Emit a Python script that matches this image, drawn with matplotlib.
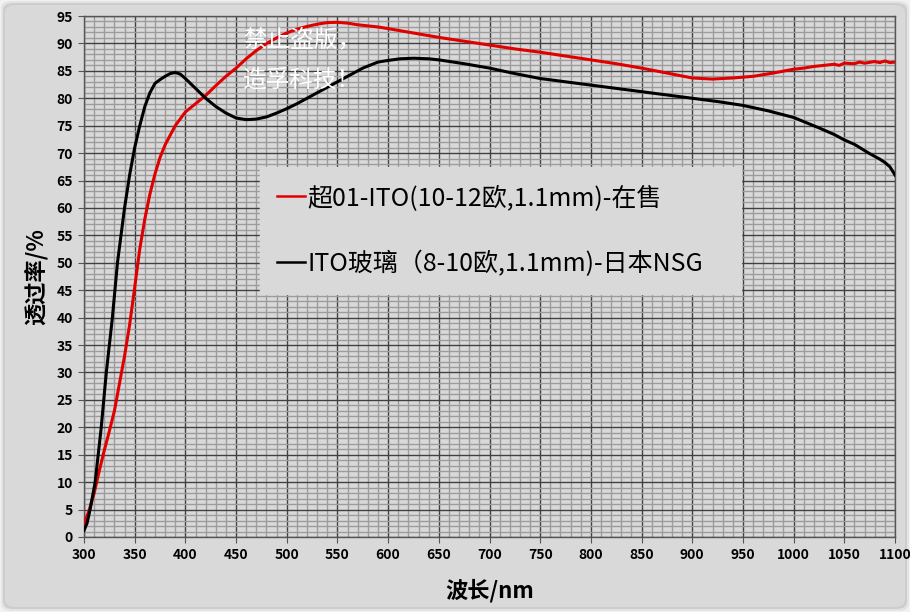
import matplotlib
matplotlib.use("Agg")
import matplotlib.pyplot as plt
from matplotlib.lines import Line2D
from matplotlib.patches import FancyBboxPatch
from matplotlib.ticker import MultipleLocator

plt.rcParams['font.family'] = ['Noto Sans CJK SC', 'DejaVu Sans']

# 超01-ITO transmittance curve
red_nm = [300, 305, 310, 315, 320, 325, 330, 335, 340, 345, 350, 355, 360, 365,
          370, 375, 380, 390, 400, 410, 420, 430, 440, 450, 460, 470, 480, 490,
          500, 510, 520, 530, 540, 550, 560, 570, 580, 590, 600, 625, 650, 675,
          700, 725, 750, 775, 800, 825, 850, 875, 900, 920, 940, 960, 980, 1000,
          1010, 1020, 1030, 1040, 1045, 1050, 1060, 1065, 1070, 1080, 1085, 1090,
          1095, 1100]
red_t = [2.5, 4.8, 8.0, 12.0, 15.8, 19.3, 23.0, 28.0, 33.0, 38.7, 45.5, 52.5, 58.0,
         62.5, 66.2, 69.2, 71.5, 75.0, 77.5, 79.0, 80.5, 82.3, 84.0, 85.5, 87.2,
         88.7, 90.0, 91.0, 91.9, 92.6, 93.1, 93.5, 93.8, 93.85, 93.7, 93.4, 93.2,
         93.0, 92.7, 91.9, 91.1, 90.4, 89.7, 89.0, 88.4, 87.7, 87.0, 86.3, 85.5,
         84.6, 83.7, 83.5, 83.7, 84.0, 84.6, 85.3, 85.5, 85.8, 86.0, 86.2, 86.0,
         86.4, 86.3, 86.6, 86.4, 86.7, 86.5, 86.8, 86.5, 86.6]

# ITO玻璃 (NSG) transmittance curve
blk_nm = [300, 303, 306, 311, 314, 317, 322, 328, 333, 340, 345, 350, 355, 360,
          365, 370, 375, 380, 385, 390, 395, 400, 410, 420, 430, 440, 450, 460,
          470, 480, 490, 500, 510, 520, 530, 540, 550, 560, 575, 590, 600, 612,
          625, 640, 650, 675, 700, 725, 750, 775, 800, 825, 850, 875, 900, 925,
          950, 975, 1000, 1025, 1040, 1050, 1060, 1075, 1085, 1090, 1095, 1100]
blk_t = [1.2, 2.5, 5.0, 10.0, 15.0, 20.0, 30.0, 40.0, 50.0, 60.0, 66.0, 71.0, 75.0,
         78.5, 81.0, 82.7, 83.4, 84.0, 84.5, 84.7, 84.4, 83.6, 81.8, 80.0, 78.5,
         77.3, 76.4, 76.1, 76.2, 76.6, 77.3, 78.1, 79.0, 80.0, 81.0, 82.0, 83.0,
         84.0, 85.5, 86.6, 86.9, 87.2, 87.3, 87.2, 87.0, 86.3, 85.5, 84.5, 83.6,
         83.0, 82.4, 81.8, 81.2, 80.6, 80.0, 79.4, 78.7, 77.7, 76.5, 74.6, 73.4,
         72.4, 71.6, 69.9, 68.9, 68.3, 67.5, 66.0]

labels = ['超01-ITO(10-12欧,1.1mm)-在售', 'ITO玻璃（8-10欧,1.1mm)-日本NSG']
bg = '#d9d9d9'

fig = plt.figure(figsize=(9.1, 6.12), dpi=100, facecolor='#f2f2f2')

# soft shadow frame round the chart area, kept behind the axes
for pad, col in [(1, '#e4e4e4'), (3, '#cdcdcd'), (5, bg)]:
    fig.patches.append(FancyBboxPatch((pad / 910, pad / 612), 1 - 2 * pad / 910, 1 - 2 * pad / 612,
                                      boxstyle='round,pad=0,rounding_size=0.012',
                                      transform=fig.transFigure, facecolor=col,
                                      edgecolor='none', zorder=-5))

ax = fig.add_axes([84 / 910, 75 / 612, 811 / 910, 521 / 612])
ax.set_zorder(1)
ax.set_facecolor(bg)

ax.plot(red_nm, red_t, color='#e00000', lw=2.2, zorder=3)
ax.plot(blk_nm, blk_t, color='black', lw=2.2, zorder=3)

ax.set_xlim(300, 1100)
ax.set_ylim(0, 95)
ax.xaxis.set_major_locator(MultipleLocator(50))
ax.xaxis.set_minor_locator(MultipleLocator(10))
ax.yaxis.set_major_locator(MultipleLocator(5))
ax.yaxis.set_minor_locator(MultipleLocator(1))
ax.grid(which='minor', color='#9c9c9c', lw=1.0, zorder=1)
ax.grid(which='major', color='#404040', lw=1.0, zorder=2)
ax.set_axisbelow(True)
for s in ax.spines.values():
    s.set_color('#555555')
    s.set_linewidth(1.0)
ax.tick_params(which='minor', length=0)
ax.tick_params(which='major', length=4, color='#555555', labelsize=10, pad=4)
for t in ax.get_xticklabels() + ax.get_yticklabels():
    t.set_fontweight('bold')

ax.set_xlabel('波长/nm', fontsize=16, fontweight='bold', labelpad=12)
ax.set_ylabel('透过率/%', fontsize=16, fontweight='bold', labelpad=6)

handles = [Line2D([], [], color='#e00000', lw=1.8), Line2D([], [], color='black', lw=1.8)]
leg = ax.legend(handles, labels, loc='upper left', bbox_to_anchor=(0.217, 0.71, 0.593, 0.0),
                mode='expand', fontsize=18, frameon=True, fancybox=False, facecolor=bg,
                edgecolor=bg, framealpha=1.0, handlelength=1.1, handletextpad=0.1,
                labelspacing=1.6, borderpad=0.7, borderaxespad=0)
leg.set_zorder(5)

ax.text(243 / 910, 1 - 40 / 612, '禁止盗版，', transform=fig.transFigure, color='white',
        fontsize=17, va='center', ha='left', zorder=6)
ax.text(243 / 910, 1 - 80 / 612, '造孚科技！', transform=fig.transFigure, color='white',
        fontsize=17, va='center', ha='left', zorder=6)

fig.savefig('out.png', dpi=100, facecolor=fig.get_facecolor())
